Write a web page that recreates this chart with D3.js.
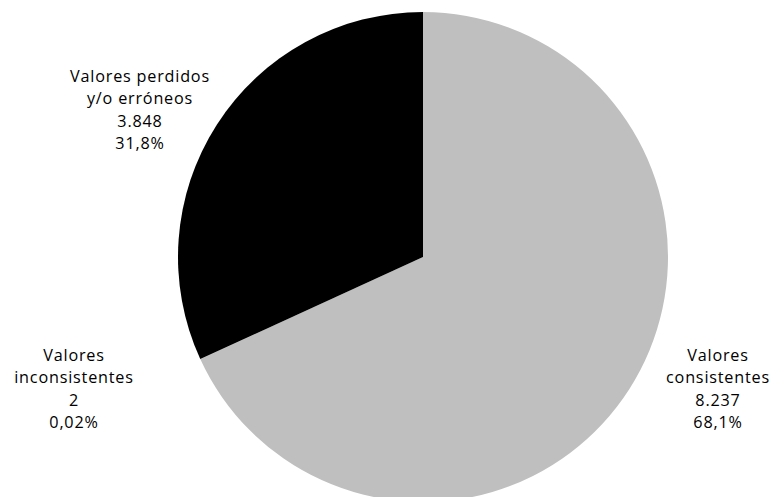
<!DOCTYPE html>
<html><head><meta charset="utf-8">
<script src="https://cdn.jsdelivr.net/npm/d3@7"></script>
<style>html,body{margin:0;padding:0;background:#fff;overflow:hidden}</style>
</head><body>
<svg id="c" width="771" height="497"></svg>
<script>
const categories = ["Valores consistentes", "Valores inconsistentes", "Valores perdidos y/o erróneos"];
const values = [8237, 2, 3848];
const valueLabels = ["8.237", "2", "3.848"];
const percentLabels = ["68,1%", "0,02%", "31,8%"];
const labelLines = [["Valores", "consistentes"], ["Valores", "inconsistentes"], ["Valores perdidos", "y/o erróneos"]];
const colors = ["#bfbfbf", "#a5a5a5", "#000000"];

const svg = d3.select("#c");
const cx = 423, cy = 257, r = 245;
const pie = d3.pie().sort(null).value(d => d);
const arcs = pie(values);
const arc = d3.arc().innerRadius(0).outerRadius(r);
const g = svg.append("g").attr("transform", `translate(${cx},${cy})`);
g.selectAll("path").data(arcs).join("path")
  .attr("d", arc).attr("fill", (d, i) => colors[i]);

const labelPos = [[718, 355], [74, 355], [140, 76]];
const lh = 22.6;
labelPos.forEach((p, i) => {
  const lines = [...labelLines[i], valueLabels[i], percentLabels[i]];
  const t = svg.append("text").attr("text-anchor", "middle")
    .attr("font-family", "Open Sans, sans-serif").attr("font-size", 16.2)
    .attr("letter-spacing", "0.8px").attr("fill", "#000");
  lines.forEach((l, k) => {
    t.append("tspan").attr("x", p[0]).attr("y", p[1] + k * lh).attr("dy", "0.35em").text(l);
  });
});
</script>
</body></html>
